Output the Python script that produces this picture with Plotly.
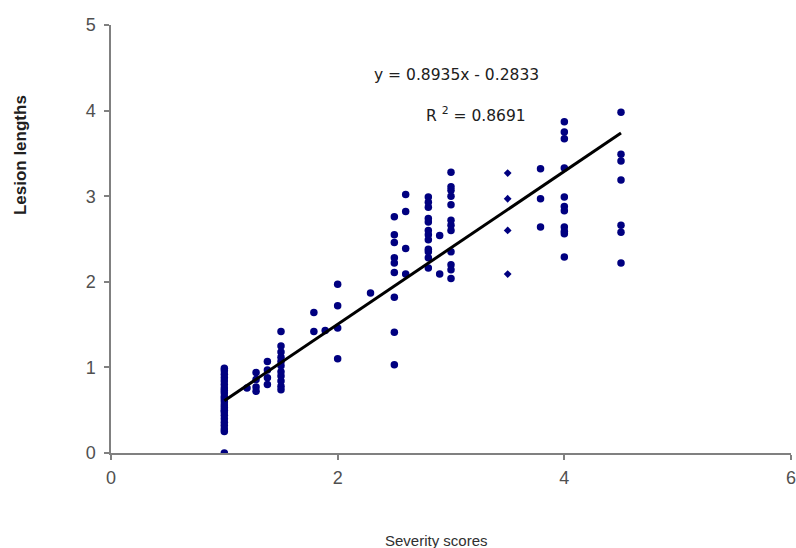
import plotly.graph_objects as go

# ---- data ----
sev_1 = [1.0] * 23
len_1 = [0.0, 0.25, 0.28, 0.32, 0.36, 0.4, 0.44, 0.48, 0.5, 0.53, 0.56, 0.6,
         0.63, 0.66, 0.7, 0.73, 0.76, 0.8, 0.84, 0.88, 0.92, 0.96, 0.99]

sev_2 = [1.2, 1.28, 1.28, 1.28, 1.28, 1.38, 1.38, 1.38, 1.38]
len_2 = [0.76, 0.94, 0.86, 0.77, 0.72, 1.07, 0.97, 0.88, 0.8]

sev_3 = [1.5] * 11
len_3 = [1.42, 1.25, 1.18, 1.12, 1.07, 1.02, 0.95, 0.9, 0.84, 0.78, 0.74]

sev_4 = [1.79, 1.79, 1.89, 2.0, 2.0, 2.0, 2.0, 2.29]
len_4 = [1.64, 1.42, 1.43, 1.97, 1.72, 1.46, 1.10, 1.87]

sev_5 = [2.5] * 9 + [2.6] * 4
len_5 = [2.76, 2.55, 2.46, 2.28, 2.22, 2.11, 1.82, 1.41, 1.03,
         3.02, 2.82, 2.39, 2.09]

sev_6 = [2.8] * 12 + [2.9] * 2
len_6 = [2.99, 2.93, 2.87, 2.74, 2.7, 2.6, 2.55, 2.49, 2.38, 2.35, 2.28, 2.16,
         2.54, 2.09]

sev_7 = [3.0] * 12
len_7 = [3.28, 3.11, 3.07, 3.0, 2.9, 2.72, 2.66, 2.6, 2.35, 2.2, 2.14, 2.04]

sev_8 = [3.5] * 4
len_8 = [3.27, 2.97, 2.6, 2.09]

sev_9 = [3.79] * 3 + [4.0] * 11
len_9 = [3.32, 2.97, 2.64,
         3.87, 3.75, 3.67, 3.33, 2.99, 2.88, 2.83, 2.64, 2.59, 2.56, 2.29]

sev_10 = [4.5] * 7
len_10 = [3.98, 3.49, 3.41, 3.19, 2.66, 2.58, 2.22]

slope = 0.8935
intercept = -0.2833
r_squared = 0.8691

x_ticks = [0, 2, 4, 6]
y_ticks = [0, 1, 2, 3, 4, 5]

# ---- build ----
xs = sev_1 + sev_2 + sev_3 + sev_4 + sev_5 + sev_6 + sev_7 + sev_9 + sev_10
ys = len_1 + len_2 + len_3 + len_4 + len_5 + len_6 + len_7 + len_9 + len_10

fig = go.Figure()
fig.add_trace(go.Scatter(x=xs, y=ys, mode="markers",
                         marker=dict(color="#000080", size=7.5, line=dict(width=0)),
                         showlegend=False, hoverinfo="skip"))
fig.add_trace(go.Scatter(x=sev_8, y=len_8, mode="markers",
                         marker=dict(color="#000080", size=6, symbol="diamond", line=dict(width=0)),
                         showlegend=False, hoverinfo="skip"))

all_x = xs + sev_8
x0, x1 = min(all_x), max(all_x)
fig.add_trace(go.Scatter(x=[x0, x1], y=[slope * x0 + intercept, slope * x1 + intercept],
                         mode="lines", line=dict(color="black", width=3),
                         showlegend=False, hoverinfo="skip"))

axis_font = dict(family="Liberation Sans, Arial, sans-serif", size=18, color="#505050")

fig.update_layout(
    width=796, height=548,
    margin=dict(l=111, r=5, t=25, b=95, autoexpand=False),
    paper_bgcolor="white", plot_bgcolor="white",
    xaxis=dict(range=[0, 6], tickvals=x_ticks, showgrid=False, zeroline=False,
               showline=True, linecolor="#808080", linewidth=1.5, automargin=False,
               ticks="outside", ticklen=5, tickcolor="#808080", tickwidth=1.5,
               tickfont=axis_font, ticklabelstandoff=3, ticklabeloverflow="allow"),
    yaxis=dict(range=[0, 5], tickvals=y_ticks, showgrid=False, zeroline=False,
               showline=True, linecolor="#808080", linewidth=1.5, automargin=False,
               ticks="outside", ticklen=5, tickcolor="#808080", tickwidth=1.5,
               tickfont=axis_font, ticklabelstandoff=5),
    font=dict(family="Liberation Sans, Arial, sans-serif"),
)

eq_font = dict(family="DejaVu Sans, Verdana, sans-serif", size=15.5, color="#202020")
fig.add_annotation(x=3.05, y=4.42, xref="x", yref="y", showarrow=False,
                   text=f"y = {slope}x - {abs(intercept)}", font=eq_font)
fig.add_annotation(x=3.22, y=3.96, xref="x", yref="y", showarrow=False,
                   text=f"R <sup>2</sup> = {r_squared}", font=eq_font)

fig.add_annotation(x=-91 / 680, y=0.696, xref="paper", yref="paper", showarrow=False,
                   xanchor="center", yanchor="middle",
                   text="<b>Lesion lengths</b>", textangle=-90,
                   font=dict(size=17, color="#202020"))
fig.add_annotation(x=0.479, y=-87 / 428, xref="paper", yref="paper", showarrow=False,
                   xanchor="center", yanchor="middle",
                   text="Severity scores",
                   font=dict(size=15, color="#303030"))

fig.write_html(
    "out.html",
    config={"displayModeBar": False},
    post_script="document.body.style.margin='0px';document.body.style.overflow='hidden';",
)
